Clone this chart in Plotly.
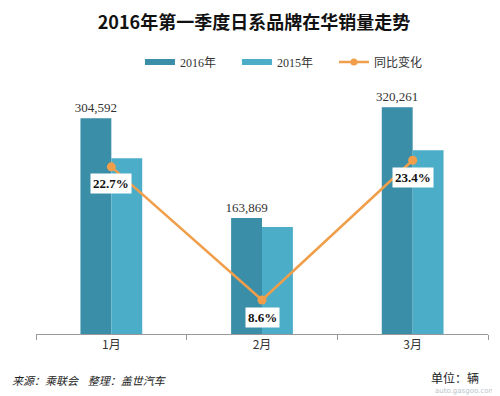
import plotly.graph_objects as go

months = ["1月", "2月", "3月"]
sales_2016 = [304592, 163869, 320261]
sales_2015 = [248240, 150890, 259530]
yoy_pct = [22.7, 8.6, 23.4]

C16 = "#3a8ea8"
C15 = "#4badc8"
CL = "#f09e4a"
SERIF = "Liberation Serif"
CJK = "Noto Sans CJK SC"

fig = go.Figure()
fig.add_trace(go.Bar(
    x=months, y=sales_2016, name="2016年", showlegend=False,
    marker=dict(color=C16, line=dict(width=0)),
    text=[f"{v:,}" for v in sales_2016], textposition="outside", constraintext="none",
    textfont=dict(family=SERIF, size=13, color="#333333"), cliponaxis=False,
))
fig.add_trace(go.Bar(
    x=months, y=sales_2015, name="2015年", showlegend=False,
    marker=dict(color=C15, line=dict(width=0)),
))
fig.add_trace(go.Scatter(
    x=months, y=yoy_pct, name="同比变化", yaxis="y2", mode="lines+markers",
    line=dict(color=CL, width=2.5), marker=dict(color=CL, size=9), showlegend=False,
))
# legend entries (rectangular swatches like the reference)
fig.add_trace(go.Scatter(x=[None], y=[None], mode="lines", name="2016年",
                         line=dict(color=C16, width=6)))
fig.add_trace(go.Scatter(x=[None], y=[None], mode="lines", name="2015年",
                         line=dict(color=C15, width=6)))
fig.add_trace(go.Scatter(x=[None], y=[None], mode="lines+markers", name="同比变化",
                         line=dict(color=CL, width=2.5), marker=dict(color=CL, size=7)))

for m, v in zip(months, yoy_pct):
    fig.add_annotation(
        x=m, y=v, xref="x", yref="y2", text=f"<b>{v}%</b>", showarrow=False,
        yshift=-17, bgcolor="white", borderpad=2,
        font=dict(family=SERIF, size=13, color="#111111"),
    )

fig.add_annotation(
    xref="paper", yref="paper", x=-0.0575, y=-0.18, xanchor="left", yanchor="middle",
    text="<i>来源：乘联会    整理：盖世汽车</i>", showarrow=False,
    font=dict(family=CJK, size=11, color="#222222"),
)
fig.add_annotation(
    xref="paper", yref="paper", x=0.985, y=-0.172, xanchor="right", yanchor="middle",
    text="单位：辆", showarrow=False,
    font=dict(family=CJK, size=12, color="#222222"),
)
fig.add_annotation(
    xref="paper", yref="paper", x=1.02, y=-0.222, xanchor="right", yanchor="middle",
    text="auto.gasgoo.com", showarrow=False,
    font=dict(family="DejaVu Sans", size=7, color="#b8c4cc"),
)

W, H = 492, 388
fig.update_layout(
    width=W, height=H,
    margin=dict(l=28, r=12, t=71, b=62, autoexpand=False),
    paper_bgcolor="white", plot_bgcolor="white",
    title=dict(text="<b>2016年第一季度日系品牌在华销量走势</b>", x=0.5, xanchor="center",
               y=1 - 15 / H, yanchor="middle", yref="container",
               font=dict(family=CJK, size=18, color="#111111")),
    barmode="group", bargap=0.59, bargroupgap=0,
    showlegend=True,
    legend=dict(orientation="h", x=0.23, xanchor="left", y=1.067, yanchor="middle",
                font=dict(family=SERIF + ", " + CJK, size=12, color="#333333"),
                tracegroupgap=0, itemwidth=30, entrywidth=52, entrywidthmode="pixels",
                bgcolor="rgba(0,0,0,0)"),
    xaxis=dict(showline=True, linecolor="#999999", linewidth=1, ticks="outside",
               tickson="boundaries", ticklen=5, tickcolor="#999999",
               tickfont=dict(family=CJK, size=12, color="#333333"), showgrid=False),
    yaxis=dict(range=[0, 360000], visible=False, showgrid=False),
    yaxis2=dict(range=[5, 32], overlaying="y", side="right", visible=False, showgrid=False),
)

fig.write_html("out.html")
